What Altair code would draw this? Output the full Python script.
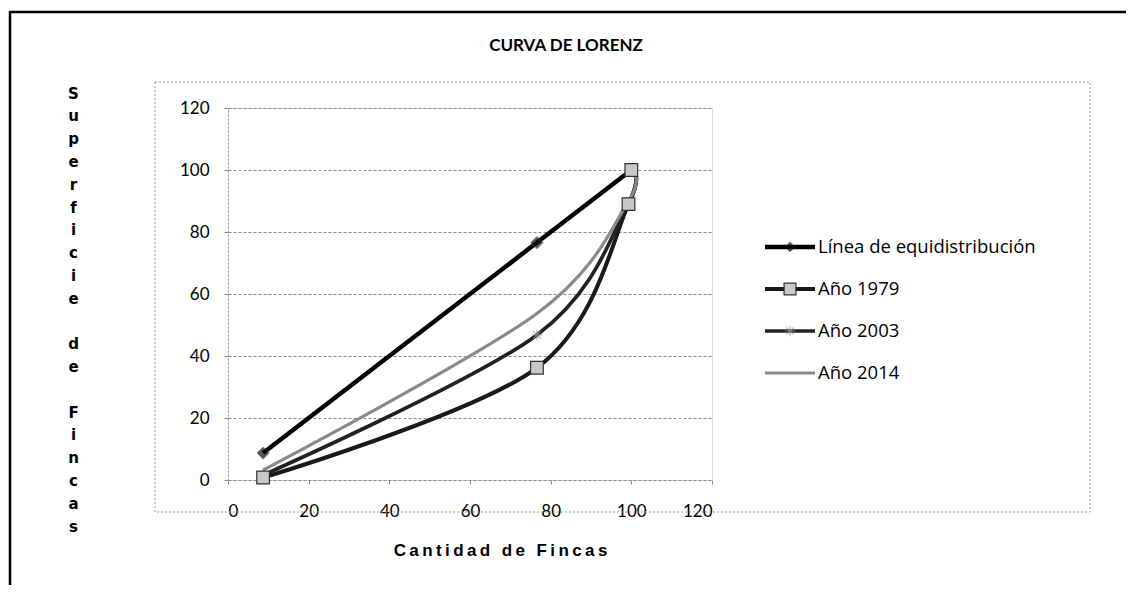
import altair as alt
import pandas as pd

# ---- data ----
series = ["Línea de equidistribución", "Año 1979", "Año 2003", "Año 2014"]
x_equi = [8.7, 76.6, 100]
y_equi = [8.7, 76.6, 100]
x_curves = [8.7, 76.6, 99.3, 100]
y_1979 = [0.8, 36.2, 89.0, 100]
y_2003 = [1.6, 46.8, 89.5, 100]
y_2014 = [3.2, 53.7, 90.0, 100]
x_ticks = [0, 20, 40, 60, 80, 100, 120]
y_ticks = [0, 20, 40, 60, 80, 100, 120]

rows = []
for xv, yv in zip(x_equi, y_equi):
    rows.append({"serie": series[0], "x": xv, "y": yv})
for name, ys in zip(series[1:], [y_1979, y_2003, y_2014]):
    for xv, yv in zip(x_curves, ys):
        rows.append({"serie": name, "x": xv, "y": yv})
df = pd.DataFrame(rows)
leg = pd.DataFrame({"serie": series})

W, H = 484, 372
FONT = "Lato"
BLANK = "\u2800"

col_scale = alt.Scale(domain=series, range=["#000000", "#1a1a1a", "#222222", "#8a8a8a"])
sw_scale = alt.Scale(domain=series, range=[4.5, 3.2, 3.2, 3.2])

xenc = alt.X("x:Q", scale=alt.Scale(domain=[0, 120], nice=False),
             axis=alt.Axis(values=x_ticks, grid=False, domain=False, tickSize=4, tickColor="#888",
                           labelFontSize=17, labelFont=FONT, labelColor="#000", labelPadding=19,
                           title="C\u2009a\u2009n\u2009t\u2009i\u2009d\u2009a\u2009d\u2009 \u2009d\u2009e\u2009 \u2009F\u2009i\u2009n\u2009c\u2009a\u2009s",
                           titleFont="Liberation Sans", titleFontSize=17, titleFontWeight="bold",
                           titleX=272, titleY=70, titleBaseline="middle", titleAnchor="middle"))
yenc = alt.Y("y:Q", scale=alt.Scale(domain=[0, 120], nice=False),
             axis=alt.Axis(values=y_ticks, grid=True, gridColor="#8c8c8c", gridDash=[3, 2],
                           domain=True, domainColor="#999", domainDash=[2, 2], tickSize=4, tickColor="#888",
                           labelFontSize=17, labelFont=FONT, labelColor="#000", labelPadding=15,
                           title=list("Superficie") + [BLANK] + list("de") + [BLANK] + list("Fincas"),
                           titleFont="DejaVu Sans", titleFontSize=15, titleFontWeight="bold",
                           titleAngle=0, titleLineHeight=22.8, titleX=-155, titleY=-22,
                           titleBaseline="top", titleAlign="center", titleAnchor="start"))

lines_curves = alt.Chart(df[df.serie != series[0]]).mark_line(interpolate="cardinal").encode(
    x=xenc, y=yenc,
    color=alt.Color("serie:N", scale=col_scale, legend=None),
    strokeWidth=alt.StrokeWidth("serie:N", scale=sw_scale, legend=None),
    detail="serie:N",
)
line_equi = alt.Chart(df[df.serie == series[0]]).mark_line(color="#000", strokeWidth=4.5).encode(
    x="x:Q", y="y:Q")

pts_equi = alt.Chart(df[df.serie == series[0]]).mark_point(
    shape="diamond", filled=True, color="#111", size=150, stroke="#555", strokeWidth=1).encode(x="x:Q", y="y:Q")
pts_2003 = alt.Chart(df[df.serie == series[2]]).mark_point(
    shape="M-1,0L1,0M0,-1L0,1M-0.7,-0.7L0.7,0.7M-0.7,0.7L0.7,-0.7", filled=False,
    color="#9a9a9a", size=120, strokeWidth=1.2).encode(x="x:Q", y="y:Q")
pts_1979 = alt.Chart(df[df.serie == series[1]]).mark_point(
    shape="square", filled=True, fill="#c8c8c8", stroke="#333", strokeWidth=1.2,
    size=160, opacity=1).encode(x="x:Q", y="y:Q")

main = alt.layer(line_equi, lines_curves, pts_equi, pts_2003, pts_1979)

# ---- custom legend ----
ly = alt.Y("serie:N", sort=series,
           scale=alt.Scale(type="point", domain=series, range=[139, 265], padding=0), axis=None)
leg_rule = alt.Chart(leg).mark_rule().encode(
    x=alt.value(537), x2=alt.value(587), y=ly,
    color=alt.Color("serie:N", scale=col_scale, legend=None),
    strokeWidth=alt.StrokeWidth("serie:N", scale=sw_scale, legend=None),
)
leg_d = alt.Chart(leg[leg.serie == series[0]]).mark_point(
    shape="diamond", filled=True, color="#111", size=110).encode(x=alt.value(562), y=ly)
leg_s = alt.Chart(leg[leg.serie == series[1]]).mark_point(
    shape="square", filled=True, fill="#c8c8c8", stroke="#333", strokeWidth=1.2, size=140,
    opacity=1).encode(x=alt.value(562), y=ly)
leg_st = alt.Chart(leg[leg.serie == series[2]]).mark_point(
    shape="M-1,0L1,0M0,-1L0,1M-0.7,-0.7L0.7,0.7M-0.7,0.7L0.7,-0.7", filled=False,
    color="#9a9a9a", size=110, strokeWidth=1.2).encode(x=alt.value(562), y=ly)
leg_txt = alt.Chart(leg).mark_text(align="left", baseline="middle", font="Open Sans", fontSize=18.5,
                                   color="#000").encode(x=alt.value(590), y=ly, text="serie:N")
legend = alt.layer(leg_rule, leg_d, leg_s, leg_st, leg_txt)

# ---- frames ----
one = pd.DataFrame({"k": [0]})
outer = alt.Chart(one).mark_rect(fillOpacity=0, stroke="#000", strokeWidth=2.5).encode(
    x=alt.value(-218), x2=alt.value(905), y=alt.value(-96), y2=alt.value(520))
inner = alt.Chart(one).mark_rect(fillOpacity=0, stroke="#999", strokeWidth=1, strokeDash=[2, 2]).encode(
    x=alt.value(-73), x2=alt.value(862), y=alt.value(-26), y2=alt.value(404))
frames = alt.layer(outer, inner)

chart = alt.layer(frames, main, legend).resolve_scale(y="independent").properties(
    width=W, height=H,
    padding={"left": 220, "top": 100, "right": 414, "bottom": 105},
    autosize=alt.AutoSizeParams(type="none"),
    title=alt.TitleParams("CURVA DE LORENZ", font=FONT, fontSize=17, fontWeight="bold",
                          color="#000", anchor="middle", frame="group", dx=96, offset=0, dy=61,
                          baseline="bottom"),
).configure_view(strokeWidth=0).configure(background="white")

chart.save("out.html", embed_options={"renderer": "svg", "actions": False})
